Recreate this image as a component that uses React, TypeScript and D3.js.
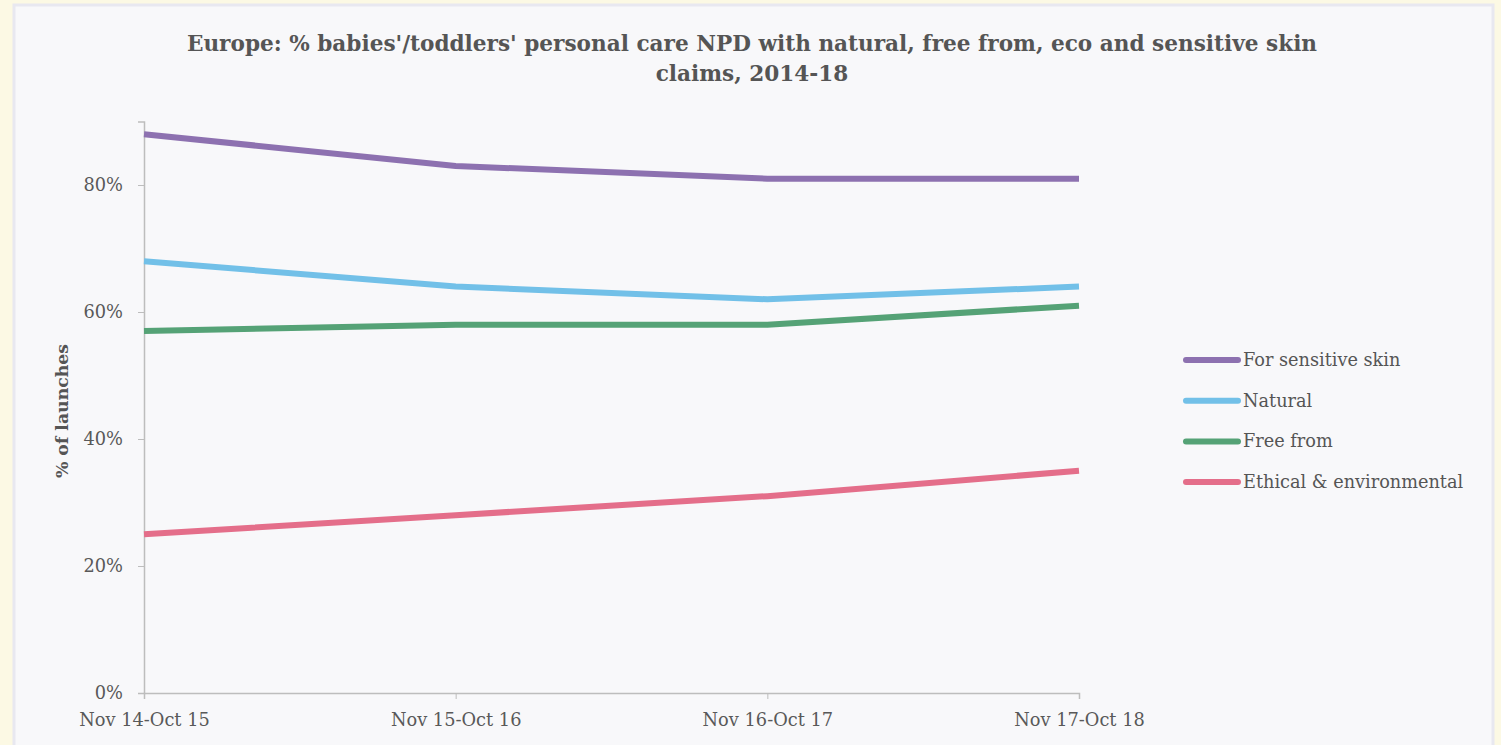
import React, { useEffect, useRef } from 'react';
import * as d3 from 'd3';

const periods = ['Nov 14-Oct 15', 'Nov 15-Oct 16', 'Nov 16-Oct 17', 'Nov 17-Oct 18'];
const seriesNames = ['For sensitive skin', 'Natural', 'Free from', 'Ethical & environmental'];
const sensitive = [88, 83, 81, 81];
const natural = [68, 64, 62, 64];
const freeFrom = [57, 58, 58, 61];
const ethical = [25, 28, 31, 35];
const yTicks = [0, 20, 40, 60, 80];
const colors = ['#8d71b0', '#72c0e8', '#55a276', '#e46e8a'];

const W = 1501;
const H = 745;
const FONT = '"DejaVu Serif", serif';

const App = () => {
  const ref = useRef<SVGSVGElement>(null);

  useEffect(() => {
    const svg = d3.select(ref.current);
    svg.selectAll('*').remove();

    // page background and panel
    svg.append('rect').attr('width', W).attr('height', H).attr('fill', '#fcf9e4');
    svg.append('rect')
      .attr('x', 14).attr('y', 5).attr('width', 1479).attr('height', 760)
      .attr('fill', '#f8f8fa').attr('stroke', '#e8e8f0').attr('stroke-width', 3);

    const x = d3.scalePoint().domain(periods).range([144, 1079]);
    const y = d3.scaleLinear().domain([0, 90]).range([693, 121.5]);

    // title
    const title = svg.append('text')
      .attr('text-anchor', 'middle')
      .attr('font-family', FONT)
      .attr('font-weight', 'bold')
      .attr('font-size', 21.6)
      .attr('fill', '#555');
    title.append('tspan').attr('x', 752).attr('y', 51)
      .text("Europe: % babies'/toddlers' personal care NPD with natural, free from, eco and sensitive skin");
    title.append('tspan').attr('x', 752).attr('y', 81).text('claims, 2014-18');

    // y axis
    const yAxis = svg.append('g')
      .attr('transform', 'translate(144,0)')
      .call(d3.axisLeft(y).tickValues(yTicks).tickFormat(d => `${d}%`).tickSize(6).tickPadding(15));
    yAxis.select('.domain').attr('stroke', '#bdbdbd').attr('stroke-width', 1.5);
    yAxis.selectAll('.tick line').attr('stroke', '#bdbdbd');
    yAxis.selectAll('.tick text')
      .attr('font-family', FONT).attr('font-size', 17.8).attr('fill', '#595959');

    // x axis
    const xAxis = svg.append('g')
      .attr('transform', 'translate(0,693)')
      .call(d3.axisBottom(x).tickSize(6).tickPadding(14));
    xAxis.select('.domain').attr('stroke', '#bdbdbd').attr('stroke-width', 1.5);
    xAxis.selectAll('.tick line').attr('stroke', '#bdbdbd');
    xAxis.selectAll('.tick text')
      .attr('font-family', FONT).attr('font-size', 17.8).attr('fill', '#595959');

    // axis title
    svg.append('text')
      .attr('transform', 'translate(68,411) rotate(-90)')
      .attr('text-anchor', 'middle')
      .attr('font-family', FONT)
      .attr('font-weight', 'bold')
      .attr('font-size', 17.3)
      .attr('fill', '#555')
      .text('% of launches');

    const allSeries = [sensitive, natural, freeFrom, ethical];
    const line = d3.line<number>()
      .x((d, i) => x(periods[i]) as number)
      .y(d => y(d));

    allSeries.forEach((vals, i) => {
      svg.append('path')
        .datum(vals)
        .attr('d', line)
        .attr('fill', 'none')
        .attr('stroke', colors[i])
        .attr('stroke-width', 6)
        .attr('stroke-linejoin', 'round');
    });

    // legend
    const legend = svg.append('g');
    seriesNames.forEach((name, i) => {
      const ly = 360 + i * 40.7;
      legend.append('line')
        .attr('x1', 1186).attr('x2', 1238)
        .attr('y1', ly).attr('y2', ly)
        .attr('stroke', colors[i]).attr('stroke-width', 6)
        .attr('stroke-linecap', 'round');
      legend.append('text')
        .attr('x', 1243).attr('y', ly + 6)
        .attr('font-family', FONT).attr('font-size', 17.7).attr('fill', '#555')
        .text(name);
    });
  }, []);

  return <svg ref={ref} width={W} height={H} style={{ position: 'absolute', left: 0, top: 0 }}></svg>;
};

export default App;
